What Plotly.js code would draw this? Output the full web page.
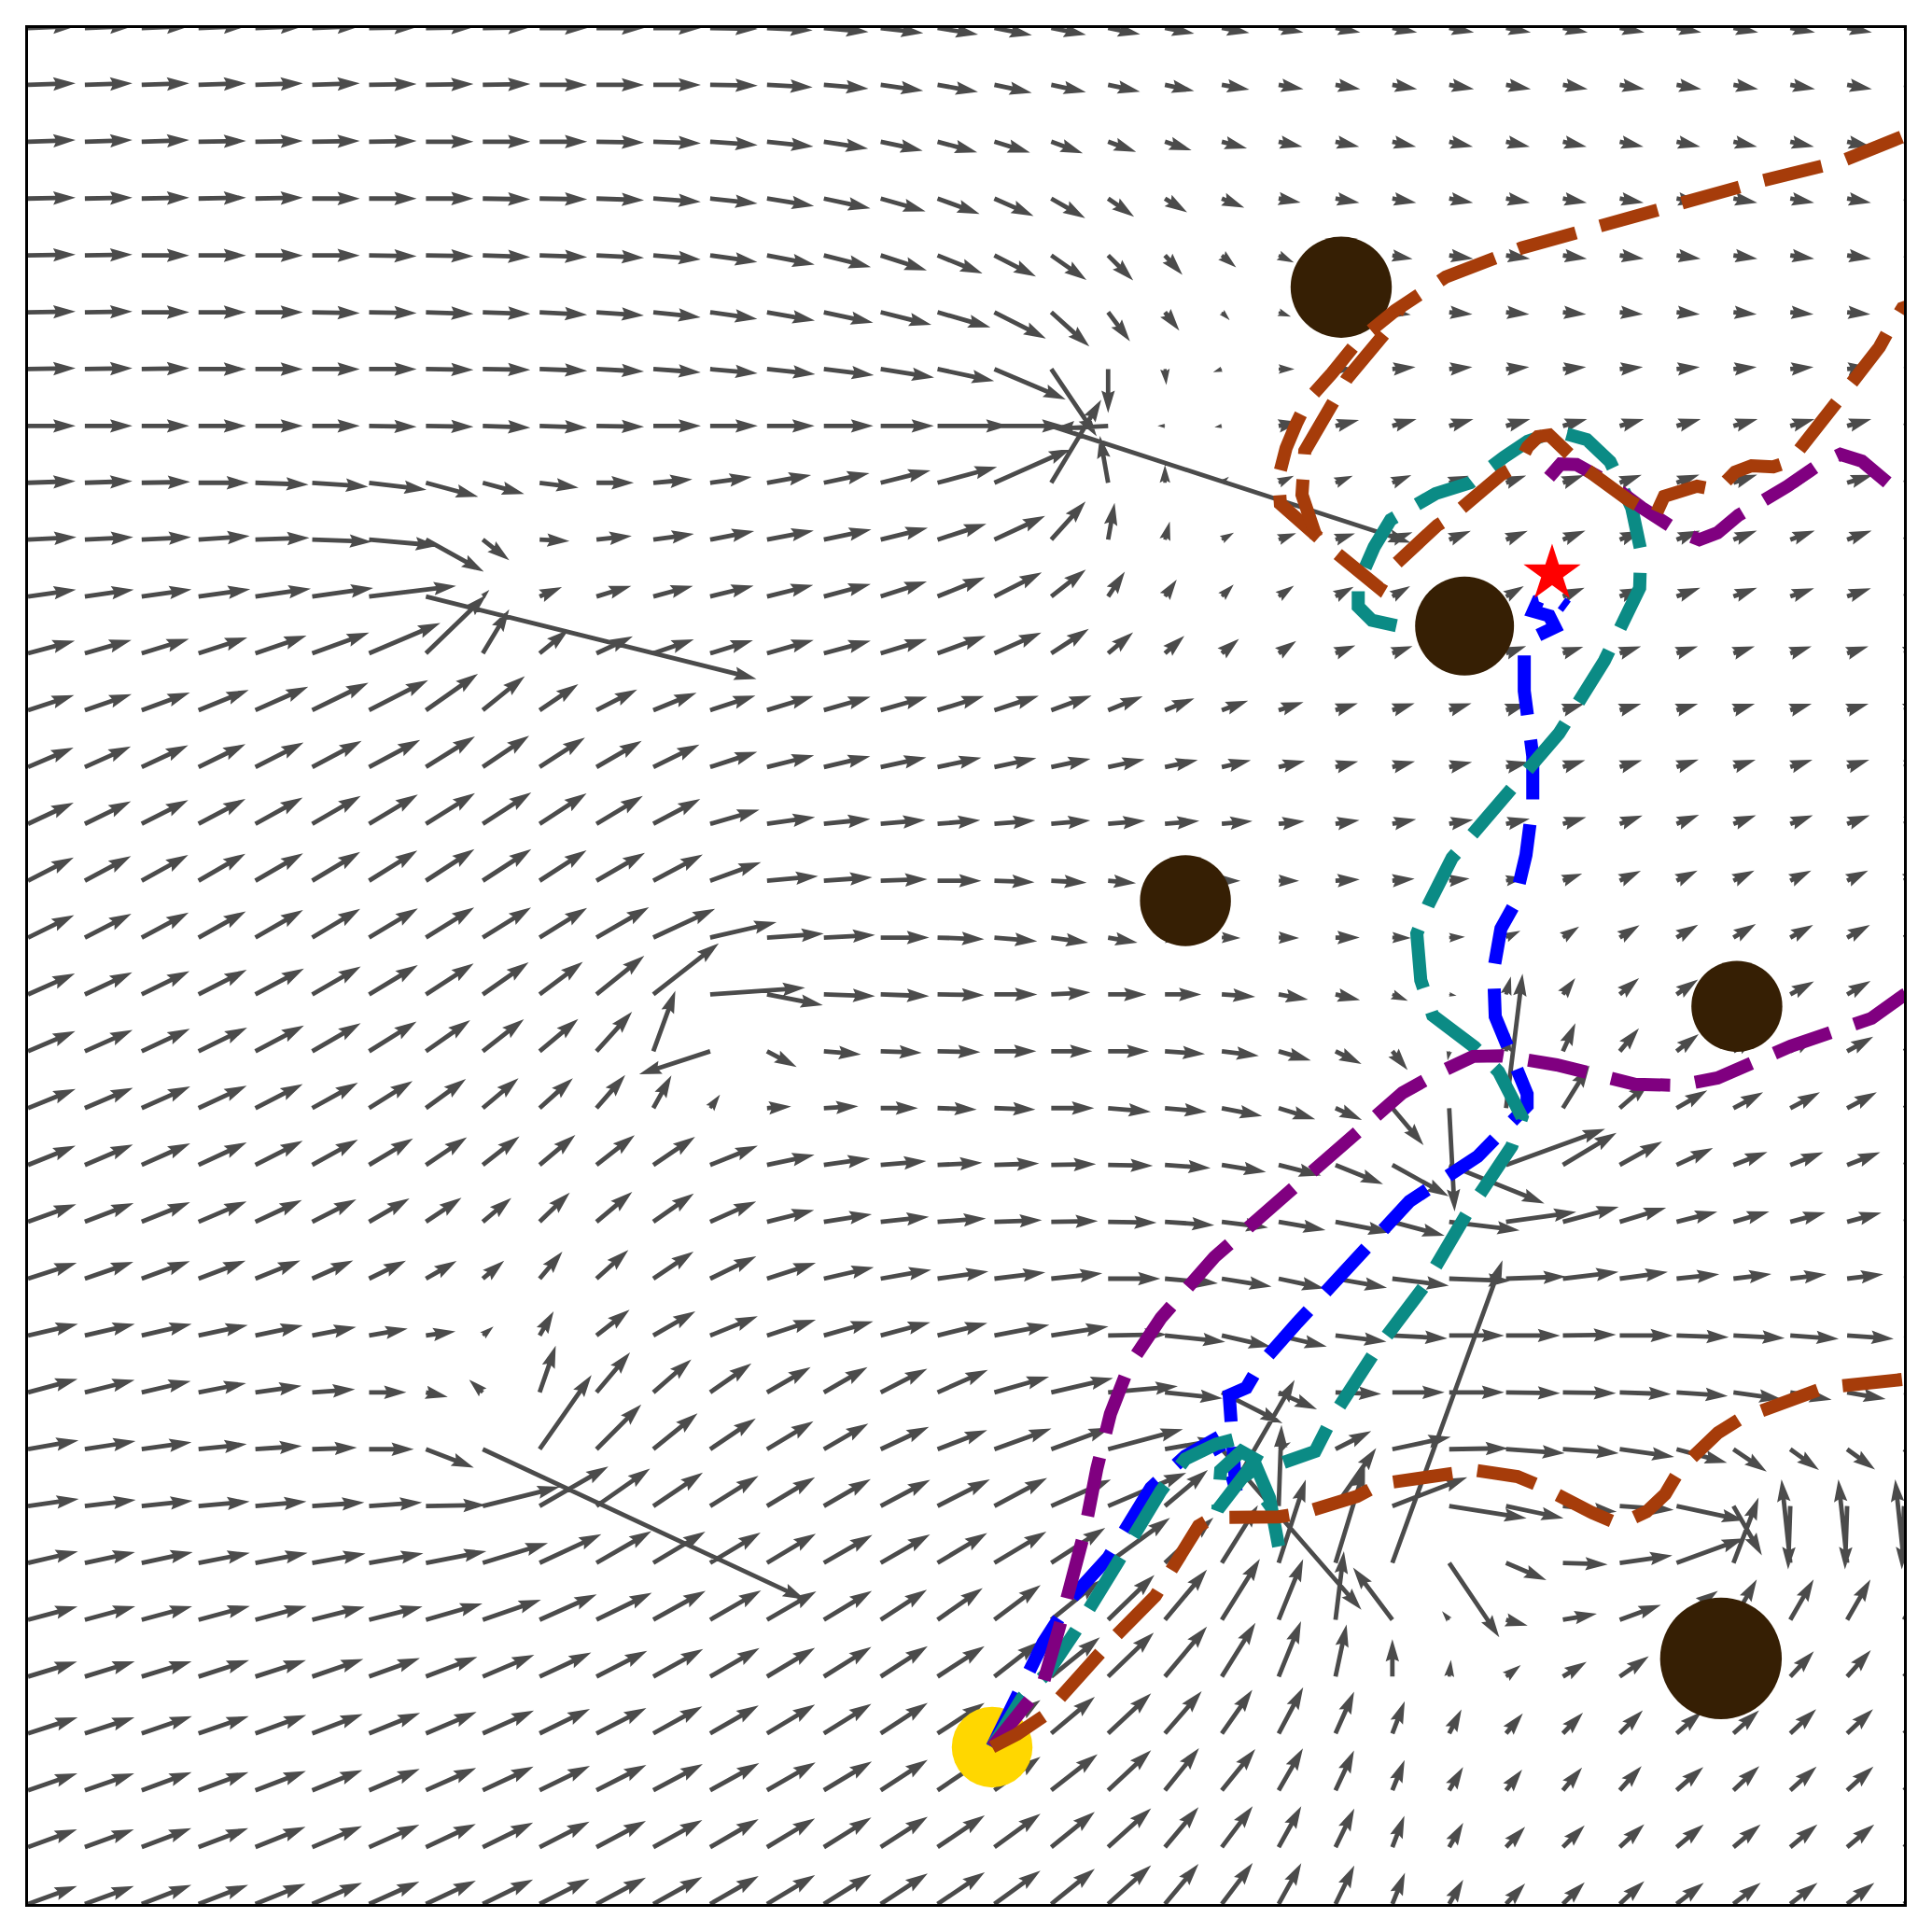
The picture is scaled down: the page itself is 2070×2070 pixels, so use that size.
<!DOCTYPE html>
<html>
<head>
<meta charset="utf-8">
<script src="https://cdn.plot.ly/plotly-3.0.1.min.js"></script>
<style>html,body{margin:0;padding:0;background:#fff;}#chart{width:2070px;height:2070px;}</style>
</head>
<body>
<div id="chart"></div>
<script>
// ---------- data (grid units: x 0..33, y 0..33) ----------
const obstacleX = [23.10, 25.27, 20.36, 30.06, 29.78];
const obstacleY = [28.44, 22.48, 17.65, 15.79, 4.32];
const obstacleR = [0.89, 0.87, 0.80, 0.80, 1.07];
const startX = [16.96], startY = [2.76], startR = 0.71;
const goalX = [26.81], goalY = [23.40];

const blueX = [16.96,17.39,17.86,18.39,19.00,19.75,20.36,20.85,21.15,21.25,21.20,21.13,21.43,21.66,22.33,23.35,24.30,25.50,26.37,26.37,26.17,25.81,25.78,25.91,26.14,26.35,26.47,26.47,26.32,26.32,26.55,26.86,26.76,26.48,26.56,26.84,27.07];
const blueY = [2.76,3.69,4.60,5.42,6.09,7.32,7.88,8.16,7.63,7.27,7.88,8.95,9.08,9.47,10.23,11.30,12.36,13.15,14.04,14.25,14.71,15.61,16.42,17.16,17.57,18.45,19.37,20.19,21.34,22.00,22.31,22.46,22.66,22.74,22.92,22.99,22.82];

const tealX = [16.96,17.49,17.95,18.42,19.18,19.93,20.36,20.90,21.25,21.56,21.84,22.00,21.87,21.43,20.93,20.98,21.34,21.84,22.33,22.64,22.95,23.71,24.54,25.30,26.10,26.28,25.87,25.45,24.71,24.50,24.43,24.63,25.05,25.99,26.93,27.73,28.35,28.37,28.21,27.83,27.42,26.88,26.38,25.96,25.37,24.76,23.97,23.68,23.40,23.40,23.64,24.33];
const tealY = [2.76,3.63,4.09,4.79,6.03,7.27,7.83,8.09,8.18,7.80,7.14,6.29,6.98,7.59,6.94,7.63,7.96,7.68,7.83,7.96,8.57,9.74,10.84,12.13,13.33,13.84,14.64,15.07,15.63,16.25,17.07,17.57,18.40,19.50,20.59,21.87,23.15,23.81,24.56,25.37,25.76,25.91,25.73,25.45,25.00,24.81,24.35,23.87,23.23,22.82,22.58,22.43];

const purpleX = [16.96,17.49,17.86,18.14,18.39,18.59,18.80,19.04,19.37,19.93,20.87,21.95,23.10,24.18,24.79,25.42,25.92,26.89,28.27,29.06,29.72,31.01,32.43,33.00,34.31,34.31,33.00,32.62,32.26,31.88,31.52,30.95,30.09,29.72,29.40,29.06,28.39,27.75,27.24,26.96,26.76,26.53];
const purpleY = [2.76,3.41,3.89,4.86,5.75,6.57,7.65,8.62,9.47,10.31,11.38,12.33,13.28,14.27,14.61,14.91,14.92,14.76,14.42,14.40,14.53,15.09,15.58,15.99,16.58,24.30,24.76,25.10,25.38,25.50,25.33,24.94,24.43,24.12,24.00,24.13,24.56,25.04,25.32,25.33,25.12,24.84];

const brownX = [16.96,17.40,17.86,18.47,19.08,19.83,20.23,20.59,20.85,22.00,22.43,23.38,23.79,24.79,25.45,26.20,26.63,27.52,27.99,28.47,28.80,29.06,29.73,30.13,31.03,31.59,33.00,34.48,34.48,32.97,32.74,32.57,31.92,31.67,31.00,30.70,30.32,30.03,29.72,29.36,28.78,28.63,28.16,27.30,27.04,26.76,26.56,26.38,26.22,25.91,25.07,24.79,23.97,23.77,22.89,22.57,22.03,22.00,22.13,22.31,22.51,22.94,23.40,24.05,24.94,26.27,27.70,29.09,30.49,31.88,33.00,34.31,
  null,22.66,22.41,22.46,23.00,23.20,23.91,24.13];
const brownY = [2.76,2.99,3.30,3.99,4.66,5.42,6.07,6.65,6.80,6.81,6.88,7.17,7.39,7.55,7.63,7.52,7.34,6.88,6.68,6.90,7.21,7.65,8.29,8.54,8.87,9.08,9.23,9.36,28.57,28.07,27.70,27.39,26.55,26.25,25.38,25.28,25.30,25.19,24.87,24.94,24.76,24.43,24.69,25.32,25.56,25.84,25.81,25.63,25.32,25.14,24.43,24.25,23.49,23.15,23.87,24.18,24.63,25.10,25.61,26.04,26.45,26.93,27.50,28.03,28.62,29.13,29.55,29.93,30.31,30.65,31.10,31.44,
  null,24.05,24.79,25.56,26.52,26.83,27.68,28.07];

// vector field: rows from top (row 0 = y 33) to bottom (row 33 = y 0); 34 columns (x 0..33)
// angle in degrees (counter-clockwise from +x), length in screen px
const fieldAngle = [
 [2,2,2,2,2,2,1,1,1,0,0,0,-1,-3,-5,-7,-9,-11,-11,-11,-11,-10,-10,-10,-10,-10,-10,-10,-10,-10,-10,-10,-10,-10],
 [2,2,2,2,2,2,1,1,1,0,0,0,-1,-3,-5,-8,-10,-12,-12,-12,-12,-10,-10,-10,-10,-10,-10,-10,-10,-10,-10,-10,-10,-10],
 [2,2,2,1,1,1,1,0,0,0,-1,-2,-4,-6,-9,-12,-15,-17,-20,-20,-18,-15,-12,-12,-12,-12,-12,-12,-12,-12,-12,-12,-12,-12],
 [1,1,1,1,1,0,0,0,-1,-1,-2,-4,-6,-9,-12,-16,-20,-24,-30,-35,-32,-22,-10,-10,-10,-10,-10,-10,-10,-10,-10,-10,-10,-10],
 [1,1,0,0,0,0,-1,-1,-2,-2,-3,-5,-8,-11,-14,-18,-22,-27,-35,-45,-48,-40,-25,-10,-10,-8,-8,-8,-8,-8,-8,-8,-8,-8],
 [1,1,0,0,0,-1,-1,-2,-2,-3,-4,-6,-8,-10,-12,-14,-16,-27,-42,-53,-52,-45,-20,-5,-8,-5,-5,-5,-5,-5,-5,-5,-5,-5],
 [1,1,1,0,0,0,0,-1,-1,-2,-3,-4,-5,-6,-7,-9,-12,-23,-56,-90,-85,200,0,0,5,5,5,5,5,5,5,5,5,5],
 [0,0,0,0,0,0,-1,-1,-2,-2,-1,0,0,0,0,0,0,0,-18,183,180,190,10,14,16,16,16,16,16,16,16,16,16,16],
 [2,2,1,0,-2,-4,-7,-15,-15,-7,0,5,8,10,12,14,15,24,59,100,90,40,25,22,22,20,20,20,20,20,19,18,17,16],
 [3,3,3,4,2,-2,-5,-29,-38,-3,6,8,11,11,12,14,18,25,48,80,75,30,20,18,20,22,22,22,21,21,21,20,20,20],
 [8,8,8,8,8,8,7,-14,45,23,17,15,14,14,15,18,22,27,38,56,55,45,35,28,30,30,30,22,21,20,20,19,19,19],
 [15,16,17,18,19,20,23,44,59,39,25,19,17,16,15,17,20,24,33,40,42,40,35,22,20,20,20,18,18,18,18,18,18,18],
 [18,19,20,22,24,26,27,35,39,34,27,22,18,17,16,16,17,18,20,22,22,20,18,17,17,17,17,17,17,17,17,17,17,17],
 [23,24,25,26,27,28,28,32,34,33,30,26,18,14,13,12,12,12,12,12,12,13,13,14,14,12,12,17,17,19,18,18,18,18],
 [25,26,27,28,29,30,31,32,33,33,31,28,16,8,6,5,5,5,5,5,5,5,6,9,11,10,12,16,20,22,21,21,21,21],
 [27,28,29,30,30,31,32,33,33,33,30,28,20,5,4,2,0,-2,-3,-5,0,0,0,3,5,6,10,20,25,26,26,26,26,26],
 [26,27,28,29,30,31,31,32,32,32,30,25,13,4,3,0,-2,-5,-8,-10,0,-1,-1,0,-1,3,25,34,32,31,31,29,29,29],
 [24,25,26,27,28,30,31,33,35,37,39,38,4,-11,-2,-2,-1,0,3,0,0,-4,-10,-13,-22,-10,75,53,40,35,30,29,30,30],
 [23,24,25,26,28,30,32,35,38,40,48,70,198,-28,-5,-2,-1,0,0,0,-4,-7,-16,-26,-51,-100,80,66,50,38,32,30,29,29],
 [22,23,24,25,27,29,32,36,40,42,49,61,54,4,3,0,-2,-2,0,-5,-5,-11,-17,-24,-50,-87,83,58,41,30,28,28,28,28],
 [22,23,24,25,27,29,31,34,38,40,38,34,22,12,8,5,3,2,1,-1,-4,-9,-14,-22,-29,-22,20,31,29,25,21,21,21,21],
 [20,21,22,23,25,27,30,34,40,44,40,35,24,14,9,6,4,2,1,-1,-4,-7,-10,-11,-15,-7,8,15,17,14,16,15,15,15],
 [18,19,20,21,22,24,26,30,40,50,42,34,26,18,13,10,8,7,6,0,-5,-9,-12,-10,-7,-2,2,7,8,6,7,7,7,7],
 [13,13,13,12,12,11,10,8,40,60,38,30,22,18,16,15,14,11,9,1,-6,-13,-13,-7,-3,0,0,1,0,-2,-3,-4,-4,-4],
 [15,14,13,11,8,4,0,-12,137,71,50,41,35,30,30,27,24,16,13,5,-6,-27,-24,-2,0,0,-1,-1,-2,-4,-8,-10,-10,-10],
 [10,9,8,6,4,2,0,-21,-25,55,45,39,34,31,30,25,21,20,20,15,10,-49,30,27,12,1,-4,-4,-8,-15,-34,-36,-36,-36],
 [8,7,6,5,5,4,4,1,14,30,35,34,32,31,30,28,27,28,24,23,40,60,88,55,21,-9,-12,-6,-4,-12,-60,-92,-92,-92],
 [13,12,12,11,11,10,10,11,17,25,30,31,31,31,30,30,31,31,33,36,43,58,72,73,70,-56,-23,-2,8,20,69,96,96,96],
 [15,15,15,15,15,14,14,16,19,24,26,29,30,30,31,33,35,37,39,44,50,58,68,83,127,130,-15,10,20,35,60,60,60,60],
 [17,17,17,18,18,19,20,21,23,25,27,29,30,31,32,33,33,38,39,44,50,58,68,78,90,84,38,32,35,40,45,47,48,48],
 [18,18,19,19,20,21,22,23,24,26,27,29,30,31,32,33,33,36,40,43,49,55,62,66,69,63,50,46,45,41,42,43,43,43],
 [19,19,20,20,21,22,23,24,25,26,27,28,29,30,31,33,34,36,38,43,51,51,60,65,68,59,52,50,48,41,43,42,42,42],
 [20,20,21,21,22,23,24,25,26,27,28,29,30,31,32,33,34,36,39,42,50,53,61,64,69,60,47,45,43,40,40,40,40,40],
 [20,20,21,21,22,23,24,25,26,27,28,29,30,31,32,33,34,36,39,42,50,53,61,64,68,60,47,45,43,38,38,38,38,38]
];
const fieldLength = [
 [51,51,51,51,51,51,51,51,51,51,51,51,51,49,48,46,44,41,38,35,32,30,27,27,27,27,27,27,27,27,27,27,27,27],
 [51,51,51,51,51,51,51,51,51,51,51,51,51,49,48,46,44,41,38,35,32,30,27,27,27,27,27,27,27,27,27,27,27,27],
 [51,51,51,51,51,51,51,51,51,51,51,51,51,50,48,46,44,40,36,32,30,28,26,26,26,26,26,26,26,26,26,26,26,26],
 [51,51,51,51,51,51,51,51,51,51,51,51,51,51,51,50,48,46,42,34,28,26,24,26,26,26,26,26,26,26,26,26,26,26],
 [51,51,51,51,51,51,51,51,51,51,51,51,51,52,52,52,52,50,46,38,28,20,18,20,22,26,26,26,26,26,26,26,26,26],
 [51,51,51,51,51,51,51,51,51,51,51,51,51,52,54,56,59,62,55,39,25,12,14,15,20,25,25,25,25,25,25,25,25,25],
 [51,51,51,51,51,51,51,51,51,51,51,51,51,52,54,58,62,83,87,47,17,10,17,20,25,25,25,25,25,25,25,25,25,25],
 [51,51,51,51,51,51,51,51,51,51,51,51,51,51,53,57,76,75,405,60,8,8,24,26,27,27,27,27,27,27,27,27,27,27],
 [51,51,52,54,57,60,62,58,46,42,40,42,45,48,50,55,66,90,104,51,19,10,18,20,22,22,23,24,25,26,27,28,29,29],
 [52,52,53,55,58,64,74,71,36,32,38,44,48,51,52,52,55,60,55,40,20,15,20,22,23,25,25,26,26,27,27,28,28,28],
 [52,53,54,56,60,66,94,365,10,26,39,44,48,51,52,52,55,57,47,32,22,18,20,22,22,22,22,25,26,27,27,27,27,27],
 [52,52,53,55,58,65,83,90,55,40,43,46,48,52,52,52,55,55,48,35,28,24,23,23,23,23,23,23,24,24,24,24,24,24],
 [52,53,55,58,62,67,71,68,58,50,49,50,51,52,52,52,52,50,46,40,34,30,28,25,25,25,24,24,24,24,24,24,24,24],
 [53,54,55,56,58,60,62,62,60,58,56,55,53,52,51,50,48,46,43,40,36,32,29,25,25,25,25,25,25,25,25,25,25,25],
 [54,55,56,57,58,60,61,62,62,60,58,57,55,52,50,48,46,44,42,40,37,33,28,26,26,26,26,26,26,26,26,26,26,26],
 [55,56,57,58,59,60,61,62,62,60,60,60,58,55,52,50,47,43,38,30,20,20,22,26,24,22,20,22,25,25,25,25,25,25],
 [55,56,57,58,59,60,61,61,61,60,65,73,73,61,55,52,50,46,40,32,20,20,22,26,20,17,17,21,25,27,28,28,28,28],
 [55,56,57,58,59,60,61,61,60,58,66,89,102,61,55,52,50,46,42,41,39,36,32,27,18,8,20,22,27,28,28,29,29,29],
 [55,56,57,58,59,60,60,58,56,54,57,69,80,36,40,44,46,45,44,44,43,40,36,31,26,10,20,33,32,30,30,32,32,32],
 [55,56,57,57,57,56,55,53,50,48,47,40,18,26,37,40,42,44,46,46,45,44,41,31,52,111,145,54,43,38,36,36,36,36],
 [55,56,57,57,57,56,55,53,50,50,52,54,55,52,50,49,48,48,48,48,49,48,47,55,69,110,113,67,52,43,39,38,38,38],
 [55,56,56,56,55,53,50,46,40,45,50,53,54,52,52,52,52,51,50,52,53,50,51,60,58,76,76,62,52,45,40,39,38,38],
 [55,55,55,54,52,48,44,38,30,38,46,52,55,55,55,55,55,55,55,56,57,54,50,56,61,66,64,60,52,46,41,39,39,39],
 [55,55,55,54,52,48,42,32,15,30,45,52,55,55,55,55,55,60,62,63,65,54,53,55,59,59,58,57,57,56,55,52,50,50],
 [55,55,54,52,50,46,40,24,20,53,56,54,54,54,54,56,59,61,68,75,62,73,45,49,56,59,58,57,55,55,52,45,42,40],
 [55,55,54,52,50,48,48,55,381,97,68,61,59,58,55,57,57,65,68,83,60,228,15,43,64,63,63,60,59,56,43,38,37,37],
 [55,55,55,55,55,56,57,64,85,85,70,64,61,60,58,60,63,64,70,91,60,156,87,76,86,84,63,58,58,74,61,68,68,68],
 [55,55,56,56,57,58,59,66,73,73,68,65,63,61,60,61,62,65,69,82,71,73,94,108,345,96,47,48,57,77,75,90,90,90],
 [55,56,56,57,57,58,59,63,66,67,66,64,63,61,60,59,59,62,67,69,70,77,70,74,70,12,24,37,47,54,50,50,50,50],
 [55,56,56,57,57,58,58,59,60,61,61,61,61,60,60,60,60,61,67,68,70,68,64,57,40,18,20,30,38,38,38,37,38,38],
 [56,56,57,57,58,58,59,59,60,60,60,60,60,60,60,60,60,61,61,63,60,57,56,49,37,29,28,31,35,36,37,38,38,38],
 [56,56,57,57,58,58,59,59,60,60,60,60,60,60,60,60,60,61,63,63,58,57,52,47,35,29,28,32,35,38,38,38,38,38],
 [56,56,57,57,58,58,59,59,60,60,60,60,60,60,60,60,61,61,60,62,56,55,50,46,36,30,30,33,36,38,38,38,38,38],
 [56,56,57,57,58,58,59,59,60,60,60,60,60,60,60,60,61,61,60,62,56,55,50,46,36,30,30,33,36,37,37,37,37,37]
];

// ---------- drawing ----------
const SIZE = 2070, MARGIN = 30, NCELL = 33;
const K = (SIZE - 2 * MARGIN) / NCELL; // px per grid unit

// quiver polygons (matplotlib-like arrow shape)
const qx = [], qy = [];
const SW = 4.8, HL = 5 * SW, HAL = 4.5 * SW, HW = 3 * SW;
for (let r = 0; r < fieldAngle.length; r++) {
  for (let c = 0; c < fieldAngle[r].length; c++) {
    const a = fieldAngle[r][c] * Math.PI / 180;
    const L = fieldLength[r][c];
    const s = L < HL ? L / HL : 1;
    const w = SW * s, hl = HL * s, hal = HAL * s, hw = HW * s;
    const pts = [[0, -w / 2], [L - hal, -w / 2], [L - hl, -hw / 2], [L, 0], [L - hl, hw / 2], [L - hal, w / 2], [0, w / 2], [0, -w / 2]];
    const ca = Math.cos(a), sa = Math.sin(a);
    const x0 = c, y0 = NCELL - r;
    for (const [u, v] of pts) {
      qx.push(x0 + (u * ca - v * sa) / K);
      qy.push(y0 + (u * sa + v * ca) / K);
    }
    qx.push(null); qy.push(null);
  }
}

const dash = '64px,27px';
const lw = 14;
const traces = [
  {type: 'scatter', mode: 'lines', x: qx, y: qy, fill: 'toself', fillcolor: '#4b4b4b',
   line: {width: 0, color: 'rgba(0,0,0,0)'}, hoverinfo: 'skip', connectgaps: false},
  {type: 'scatter', mode: 'markers', x: obstacleX, y: obstacleY,
   marker: {size: obstacleR.map(r => 2 * r * K), color: '#361f04', opacity: 1, line: {width: 0}}},
  {type: 'scatter', mode: 'markers', x: startX, y: startY,
   marker: {size: 2 * startR * K, color: '#ffd700', opacity: 1, line: {width: 0}}},
  {type: 'scatter', mode: 'lines', x: blueX, y: blueY, line: {color: '#0000ff', width: lw, dash: dash}},
  {type: 'scatter', mode: 'lines', x: tealX, y: tealY, line: {color: '#0b8b85', width: lw, dash: dash}},
  {type: 'scatter', mode: 'lines', x: purpleX, y: purpleY, line: {color: '#800080', width: lw, dash: dash}},
  {type: 'scatter', mode: 'lines', x: brownX, y: brownY, connectgaps: false, line: {color: '#a63c0a', width: lw, dash: dash}},
  {type: 'scatter', mode: 'markers', x: goalX, y: goalY,
   marker: {symbol: 'star', size: 46, color: '#ff0000', opacity: 1, line: {width: 0}}}
];

const axis = {range: [0, NCELL], showgrid: false, zeroline: false, showticklabels: false, ticks: '',
  showline: true, mirror: true, linecolor: '#000', linewidth: 3, fixedrange: true};
const layout = {
  width: SIZE, height: SIZE, showlegend: false,
  margin: {l: MARGIN, r: MARGIN, t: MARGIN, b: MARGIN, pad: 0},
  paper_bgcolor: '#fff', plot_bgcolor: '#fff',
  xaxis: Object.assign({}, axis), yaxis: Object.assign({}, axis)
};
Plotly.newPlot('chart', traces, layout, {staticPlot: true, displayModeBar: false});
</script>
</body>
</html>
